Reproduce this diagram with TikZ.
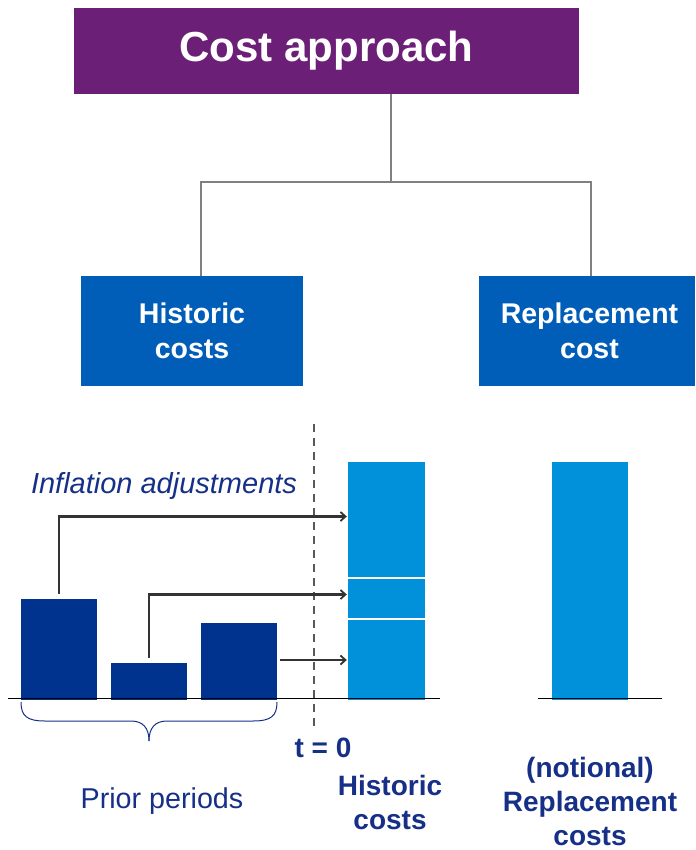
\documentclass[tikz,border=0pt]{standalone}
\usepackage{fontspec}
\setmainfont{Liberation Sans}
\usetikzlibrary{arrows.meta}
\definecolor{kpurple}{RGB}{108,31,119}
\definecolor{kblue}{RGB}{0,94,184}
\definecolor{kdark}{RGB}{0,51,141}
\definecolor{klight}{RGB}{0,145,218}
\definecolor{ktext}{RGB}{22,48,135}
\definecolor{kgray}{RGB}{128,128,128}
\definecolor{karrow}{RGB}{51,51,51}
\begin{document}
\begin{tikzpicture}[x=1pt,y=-1pt,
  box/.style={fill=kblue,text=white,font=\fontsize{28.5}{35}\selectfont\bfseries,align=center,inner sep=0pt,minimum height=110pt},
  darkbar/.style={fill=kdark,inner sep=0pt},
  lightbar/.style={fill=klight,inner sep=0pt},
  conn/.style={draw=kgray,line width=1.2pt},
  arr/.style={draw=karrow,line width=2.2pt,-{Straight Barb[length=5pt,width=9pt,line width=1.8pt]}},
  lbl/.style={text=ktext,font=\fontsize{28}{34}\selectfont\bfseries,align=center,inner sep=0pt},
  axis/.style={draw=black,line width=1pt}]
\useasboundingbox (0,0) rectangle (695,850);
% top box
\node[fill=kpurple,text=white,font=\fontsize{42}{48}\selectfont\bfseries,minimum width=505pt,minimum height=86pt,inner sep=0pt] (cost) at (326.5,51) {Cost approach};
\node[box,minimum width=222pt] (hist) at (192,331) {Historic\\costs};
\node[box,minimum width=216pt,text width=216pt,xshift=0pt] (repl) at (587,331) {\hspace*{5pt}Replacement\\\hspace*{5pt}cost};
\coordinate (j) at (391,182);
\draw[conn] (j |- cost.south) -- (j);
\draw[conn] (j) -| ([xshift=9pt]hist.north);
\draw[conn] (j) -| ([xshift=4pt]repl.north);
% dashed time line
\coordinate (d1) at (314,424);
\coordinate (d2) at (314,726);
\draw[draw=black!65,line width=1.5pt,dash pattern=on 8pt off 6pt] (d1) -- (d2);
% prior bars
\node[darkbar,minimum width=76pt,minimum height=101pt] (b1) at (59,649.5) {};
\node[darkbar,minimum width=76pt,minimum height=37pt] (b2) at (149,681.5) {};
\node[darkbar,minimum width=76pt,minimum height=77pt] (b3) at (239,661.5) {};
% historic stack
\node[lightbar,minimum width=77pt,minimum height=115pt] (s1) at (386.5,519.5) {};
\node[lightbar,minimum width=77pt,minimum height=39pt] (s2) at (386.5,598.5) {};
\node[lightbar,minimum width=77pt,minimum height=80pt] (s3) at (386.5,660) {};
% replacement bar
\node[lightbar,minimum width=76pt,minimum height=238pt] (rb) at (590,581) {};
% axes
\coordinate (a1) at (8,698.5);
\coordinate (a2) at (440,698.5);
\coordinate (a3) at (538,698.5);
\coordinate (a4) at (662,698.5);
\draw[axis] (a1) -- (a2);
\draw[axis] (a3) -- (a4);
% arrows
\draw[arr] ([yshift=5pt]b1.north) |- ([xshift=-1pt,yshift=3pt]s1.west);
\draw[arr] ([yshift=5pt]b2.north) |- ([xshift=-1pt,yshift=4pt]s2.west);
\draw[arr] ([xshift=3pt]b3.east |- s3.west) -- ([xshift=-1pt]s3.west);
% inflation label
\node[text=ktext,font=\fontsize{29}{34}\selectfont\itshape,inner sep=0pt] (infl) at (164,486) {Inflation adjustments};
% brace
\coordinate (br1) at (21,702);
\coordinate (br2) at (277,702);
\coordinate (brt) at (149,741);
\draw[draw=ktext,line width=1pt] (br1) .. controls (21,716) and (27,721) .. (45,721) -- (131,721) .. controls (143,721) and (149,728) .. (brt);
\draw[draw=ktext,line width=1pt] (br2) .. controls (277,716) and (271,721) .. (253,721) -- (167,721) .. controls (155,721) and (149,728) .. (brt);
% labels
\node[text=ktext,font=\fontsize{28.7}{34}\selectfont,inner sep=0pt] (prior) at (162,801) {Prior periods};
\node[lbl] (t0) at (323,748) {t = 0};
\node[lbl] (hl) at (390,802) {Historic\\costs};
\node[lbl] (rl) at (590,801) {(notional)\\Replacement\\costs};
\end{tikzpicture}
\end{document}
